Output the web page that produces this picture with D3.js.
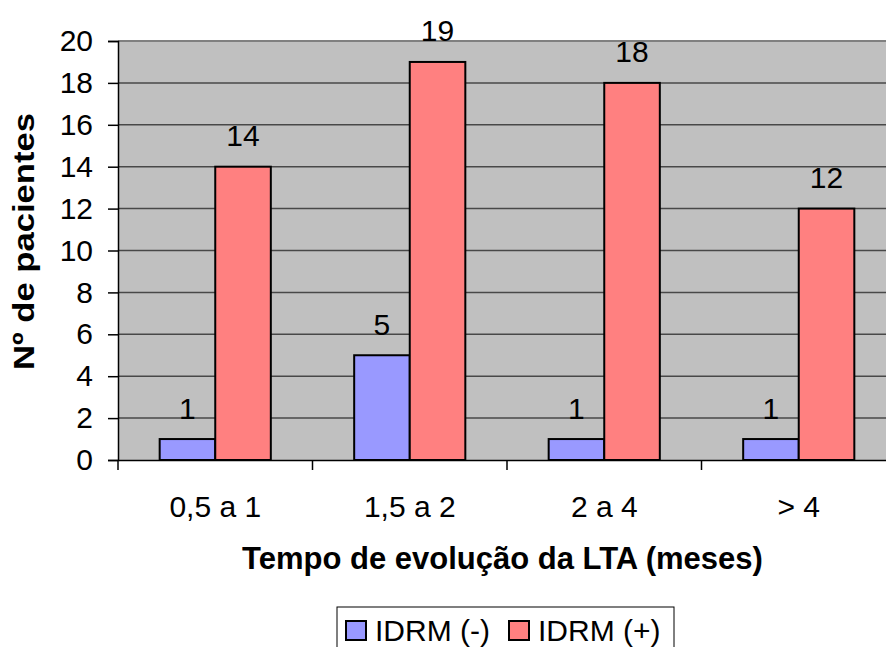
<!DOCTYPE html>
<html>
<head>
<meta charset="utf-8">
<script src="https://cdn.jsdelivr.net/npm/d3@7"></script>
<style>
  html, body { margin: 0; padding: 0; background: #fff; }
  svg { display: block; font-family: Arial, "Liberation Sans", sans-serif; }
</style>
</head>
<body>
<svg id="chart" width="886" height="647"></svg>
<script>
// Patients by time of evolution of LTA, split by IDRM result
const categories = ["0,5 a 1", "1,5 a 2", "2 a 4", "> 4"];
const seriesNames = ["IDRM (-)", "IDRM (+)"];
const idrmNeg = [1, 5, 1, 1];
const idrmPos = [14, 19, 18, 12];
const yTicks = [0, 2, 4, 6, 8, 10, 12, 14, 16, 18, 20];
const seriesColors = ["#9999FF", "#FF8080"];

const FONT = "Arial, 'Liberation Sans', sans-serif";
const FS = 30;

const svg = d3.select("#chart");
const plot = { left: 118, top: 41, right: 896, bottom: 460 };

const x = d3.scaleBand().domain(categories).range([plot.left, plot.right]).paddingInner(0).paddingOuter(0);
const inner = d3.scaleBand().domain(seriesNames).range([0, x.bandwidth()]).paddingInner(0).paddingOuter(0.75);
const y = d3.scaleLinear().domain([0, 20]).range([plot.bottom, plot.top]);

// plot background
svg.append("rect")
  .attr("x", plot.left).attr("y", plot.top)
  .attr("width", plot.right - plot.left).attr("height", plot.bottom - plot.top)
  .attr("fill", "#C0C0C0");

// top border
svg.append("line")
  .attr("x1", plot.left).attr("x2", plot.right)
  .attr("y1", plot.top).attr("y2", plot.top)
  .attr("stroke", "#808080").attr("stroke-width", 2);

// gridlines
svg.append("g").selectAll("line")
  .data(yTicks.filter(d => d > 0 && d < 20))
  .join("line")
  .attr("x1", plot.left).attr("x2", plot.right)
  .attr("y1", d => y(d)).attr("y2", d => y(d))
  .attr("stroke", "#484848").attr("stroke-width", 1.5);

// y axis
const yAxis = svg.append("g")
  .attr("transform", `translate(${plot.left},0)`)
  .call(d3.axisLeft(y).tickValues(yTicks).tickSize(10).tickPadding(15));
yAxis.select(".domain").attr("stroke", "#000").attr("stroke-width", 1.5);
yAxis.selectAll(".tick line").attr("stroke", "#000").attr("stroke-width", 1.5);
yAxis.selectAll(".tick text").attr("font-size", FS).attr("fill", "#000")
  .attr("font-family", FONT);

// x axis
const xAxis = svg.append("g")
  .attr("transform", `translate(0,${plot.bottom})`)
  .call(d3.axisBottom(x).tickSize(0).tickPadding(36));
xAxis.select(".domain").attr("stroke", "#000").attr("stroke-width", 1.5);
xAxis.selectAll(".tick text").attr("font-size", FS).attr("fill", "#000")
  .attr("font-family", FONT);
// category boundary ticks
svg.append("g").selectAll("line")
  .data(categories)
  .join("line")
  .attr("x1", d => x(d)).attr("x2", d => x(d))
  .attr("y1", plot.bottom).attr("y2", plot.bottom + 10)
  .attr("stroke", "#000").attr("stroke-width", 1.5);

// bars
const rows = categories.map((c, i) => ({ cat: c, values: [idrmNeg[i], idrmPos[i]] }));
const groups = svg.append("g").selectAll("g")
  .data(rows)
  .join("g")
  .attr("transform", d => `translate(${x(d.cat)},0)`);

groups.selectAll("rect")
  .data(d => d.values.map((v, j) => ({ name: seriesNames[j], value: v, j })))
  .join("rect")
  .attr("x", d => inner(d.name))
  .attr("y", d => y(d.value))
  .attr("width", inner.bandwidth())
  .attr("height", d => y(0) - y(d.value))
  .attr("fill", d => seriesColors[d.j])
  .attr("stroke", "#000").attr("stroke-width", 2);

groups.selectAll("text")
  .data(d => d.values.map((v, j) => ({ name: seriesNames[j], value: v })))
  .join("text")
  .attr("x", d => inner(d.name) + inner.bandwidth() / 2)
  .attr("y", d => y(d.value) - 20.5)
  .attr("text-anchor", "middle")
  .attr("font-size", FS)
  .attr("fill", "#000")
  .text(d => d.value);

// axis titles
svg.append("text")
  .attr("x", 502.5).attr("y", 569)
  .attr("text-anchor", "middle")
  .attr("font-size", 31).attr("font-weight", "bold")
  .text("Tempo de evolução da LTA (meses)");

svg.append("text")
  .attr("transform", "translate(34,241.5) rotate(-90)")
  .attr("text-anchor", "middle")
  .attr("font-size", FS).attr("font-weight", "bold")
  .attr("textLength", 257).attr("lengthAdjust", "spacingAndGlyphs")
  .text("Nº de pacientes");

// legend
const legend = svg.append("g");
legend.append("rect")
  .attr("x", 337).attr("y", 607).attr("width", 337).attr("height", 60)
  .attr("fill", "#fff").attr("stroke", "#000").attr("stroke-width", 1);
const legendX = [346, 509];
seriesNames.forEach((name, i) => {
  legend.append("rect")
    .attr("x", legendX[i]).attr("y", 621).attr("width", 20).attr("height", 19)
    .attr("fill", seriesColors[i]).attr("stroke", "#000").attr("stroke-width", 2);
  legend.append("text")
    .attr("x", legendX[i] + 29).attr("y", 641)
    .attr("font-size", FS)
    .text(name);
});
</script>
</body>
</html>
